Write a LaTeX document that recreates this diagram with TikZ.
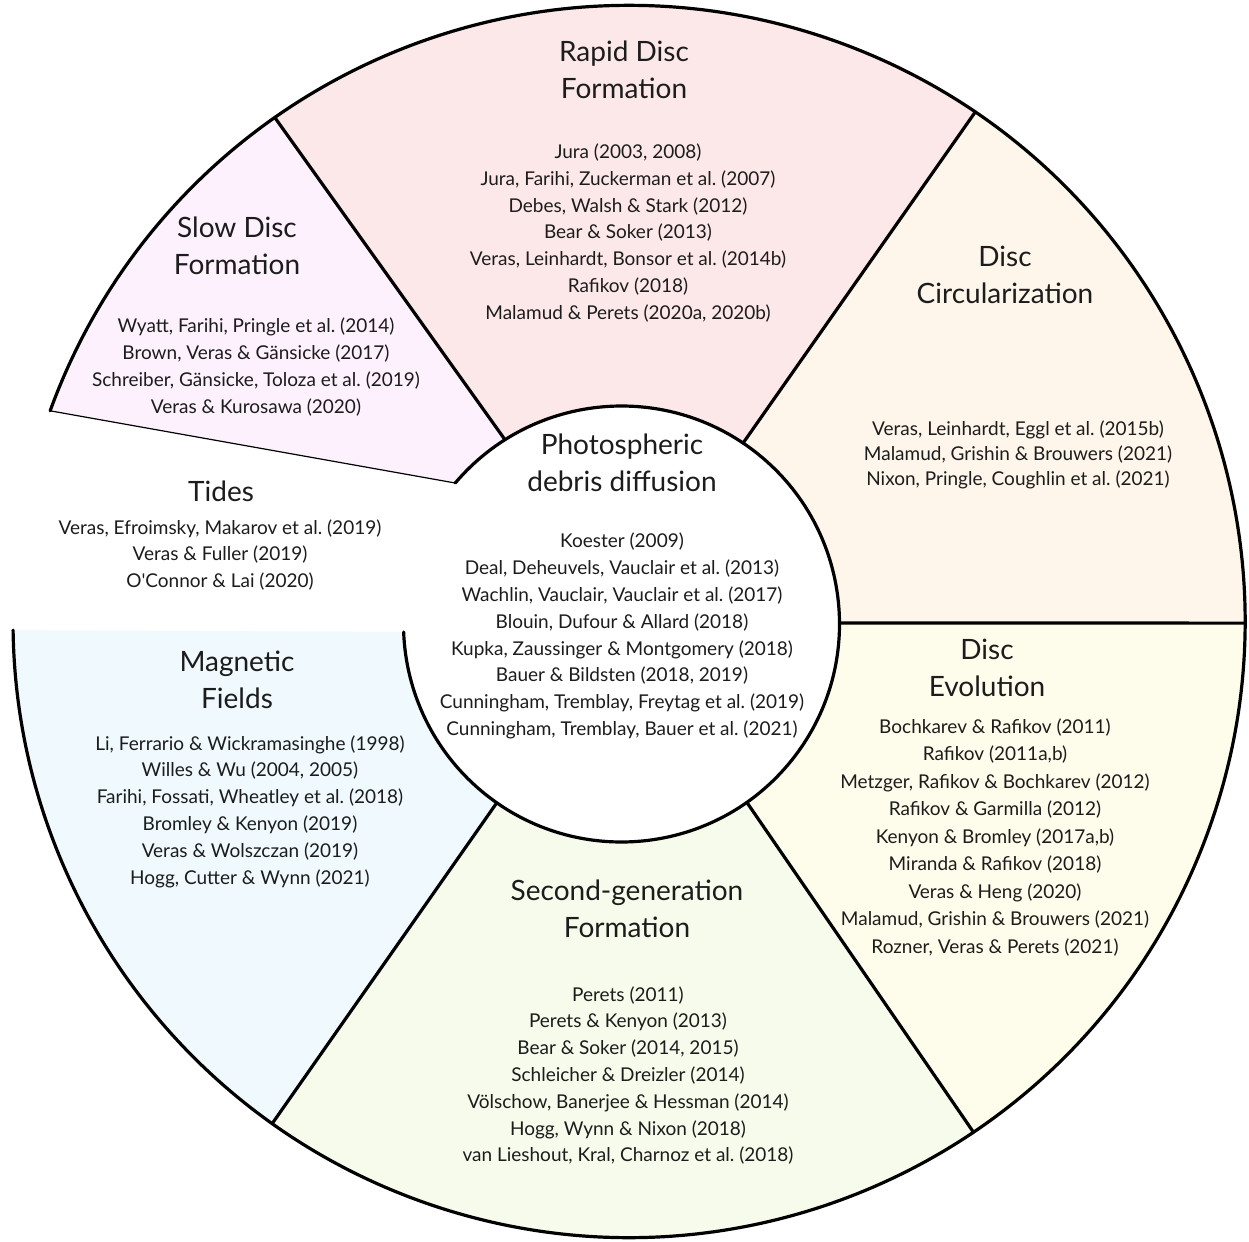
\documentclass[tikz,border=0pt]{standalone}
\usepackage{fontspec}
\setmainfont{Lato}
\usetikzlibrary{calc}

\definecolor{rapidfill}{RGB}{253,232,233}
\definecolor{slowfill}{RGB}{253,241,253}
\definecolor{circfill}{RGB}{254,246,235}
\definecolor{evofill}{RGB}{254,252,234}
\definecolor{secfill}{RGB}{246,251,235}
\definecolor{magfill}{RGB}{239,249,254}
\definecolor{inkcol}{RGB}{28,28,28}

\begin{document}
\begin{tikzpicture}[x=1pt, y=1pt, title/.style={align=center, inner sep=0pt, text=inkcol, font=\fontsize{28}{37}\selectfont}, refs/.style={align=center, inner sep=0pt, text=inkcol, font=\fontsize{19}{26.8}\selectfont}, rim/.style={line width=3.2pt, line cap=round}]
    \fill[white] (0,0) rectangle (1249,-1241);
    \useasboundingbox (0,0) rectangle (1249,-1241);
    \def\R{616}
    \def\r{218}
    \coordinate (O) at (629,-621.5);
    \coordinate (I) at (621.5,-624);
    \foreach \name/\ao/\ai in {slow/160/139.7, ab/125.1/122.3, bc/55.8/56.1, cd/-0.15/0.26, de/-56/-54.9, ef/-125.4/-124.9, mag/-179.2/-177.9} {
        \coordinate (\name-out) at ($(O)+(\ao:\R)$);
        \coordinate (\name-in) at ($(I)+(\ai:\r)$);
    }

    % sectors
    \fill[slowfill] (slow-in) -- (slow-out) arc[start angle=160, end angle=125.1, radius=\R] -- (ab-in) arc[start angle=122.3, end angle=139.7, radius=\r] -- cycle;
    \fill[rapidfill] (ab-in) -- (ab-out) arc[start angle=125.1, end angle=55.8, radius=\R] -- (bc-in) arc[start angle=56.1, end angle=122.3, radius=\r] -- cycle;
    \fill[circfill] (bc-in) -- (bc-out) arc[start angle=55.8, end angle=-0.15, radius=\R] -- (cd-in) arc[start angle=0.26, end angle=56.1, radius=\r] -- cycle;
    \fill[evofill] (cd-in) -- (cd-out) arc[start angle=-0.15, end angle=-56, radius=\R] -- (de-in) arc[start angle=-54.9, end angle=0.26, radius=\r] -- cycle;
    \fill[secfill] (de-in) -- (de-out) arc[start angle=-56, end angle=-125.4, radius=\R] -- (ef-in) arc[start angle=-124.9, end angle=-54.9, radius=\r] -- cycle;
    \fill[magfill] (ef-in) -- (ef-out) arc[start angle=-125.4, end angle=-179.2, radius=\R] -- (mag-in) arc[start angle=-177.9, end angle=-124.9, radius=\r] -- cycle;

    % outlines
    \draw[rim] (slow-out) arc[start angle=160, end angle=-179.2, radius=\R];
    \draw[rim] (slow-in) arc[start angle=139.7, end angle=-177.9, radius=\r];
    \foreach \name in {ab, bc, cd, de, ef}
        \draw[rim] (\name-in) -- (\name-out);
    \draw[line width=1.2pt] (slow-out) -- (slow-in);

    \node[title] (rapidT) at (624,-69.5) {Rapid Disc\\Formation};
    \node[refs] (rapidR) at (628,-233) {Jura (2003, 2008)\\Jura, Farihi, Zuckerman et al.\ (2007)\\Debes, Walsh \& Stark (2012)\\Bear \& Soker (2013)\\Veras, Leinhardt, Bonsor et al.\ (2014b)\\Rafikov (2018)\\Malamud \& Perets (2020a, 2020b)};

    \node[title] (slowT) at (237,-245.5) {Slow Disc\\Formation};
    \node[refs] (slowR) at (256,-367) {Wyatt, Farihi, Pringle et al.\ (2014)\\Brown, Veras \& Gänsicke (2017)\\Schreiber, Gänsicke, Toloza et al.\ (2019)\\Veras \& Kurosawa (2020)};

    \node[title] (circT) at (1005,-274.5) {Disc\\Circularization};
    \node[refs, font=\fontsize{19}{25.2}\selectfont] (circR) at (1018,-455) {Veras, Leinhardt, Eggl et al.\ (2015b)\\Malamud, Grishin \& Brouwers (2021)\\Nixon, Pringle, Coughlin et al.\ (2021)};

    \node[title] (tidesT) at (221,-491) {Tides};
    \node[refs] (tidesR) at (220,-555) {Veras, Efroimsky, Makarov et al.\ (2019)\\Veras \& Fuller (2019)\\O\textquotesingle Connor \& Lai (2020)};

    \node[title] (photoT) at (622,-463) {Photospheric\\debris diffusion};
    \node[refs] (photoR) at (622,-636) {Koester (2009)\\Deal, Deheuvels, Vauclair et al.\ (2013)\\Wachlin, Vauclair, Vauclair et al.\ (2017)\\Blouin, Dufour \& Allard (2018)\\Kupka, Zaussinger \& Montgomery (2018)\\Bauer \& Bildsten (2018, 2019)\\Cunningham, Tremblay, Freytag et al.\ (2019)\\Cunningham, Tremblay, Bauer et al.\ (2021)};

    \node[title] (magT) at (237,-680) {Magnetic\\Fields};
    \node[refs] (magR) at (250,-811.5) {Li, Ferrario \& Wickramasinghe (1998)\\Willes \& Wu (2004, 2005)\\Farihi, Fossati, Wheatley et al.\ (2018)\\Bromley \& Kenyon (2019)\\Veras \& Wolszczan (2019)\\Hogg, Cutter \& Wynn (2021)};

    \node[title] (evoT) at (987,-667.5) {Disc\\Evolution};
    \node[refs, font=\fontsize{19}{27.5}\selectfont] (evoR) at (995,-837.5) {Bochkarev \& Rafikov (2011)\\Rafikov (2011a,b)\\Metzger, Rafikov \& Bochkarev (2012)\\Rafikov \& Garmilla (2012)\\Kenyon \& Bromley (2017a,b)\\Miranda \& Rafikov (2018)\\Veras \& Heng (2020)\\Malamud, Grishin \& Brouwers (2021)\\Rozner, Veras \& Perets (2021)};

    \node[title] (secT) at (627,-908.5) {Second-generation\\Formation};
    \node[refs] (secR) at (628,-1075.5) {Perets (2011)\\Perets \& Kenyon (2013)\\Bear \& Soker (2014, 2015)\\Schleicher \& Dreizler (2014)\\Völschow, Banerjee \& Hessman (2014)\\Hogg, Wynn \& Nixon (2018)\\van Lieshout, Kral, Charnoz et al.\ (2018)};
\end{tikzpicture}
\end{document}
